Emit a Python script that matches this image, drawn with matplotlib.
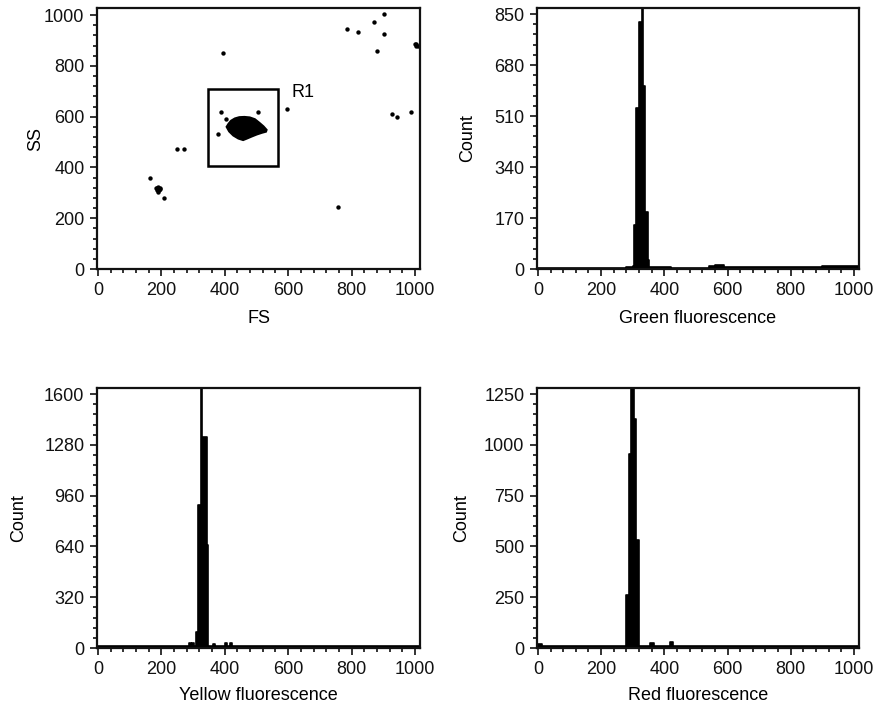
import numpy as np
import matplotlib.pyplot as plt
from matplotlib.ticker import MultipleLocator
from matplotlib.patches import Rectangle

plt.rcParams['font.family'] = ['Liberation Sans', 'DejaVu Sans']
plt.rcParams['font.size'] = 13

# FS / SS scatter: scattered single events
fs_events = [395, 787, 819, 872, 903, 903, 881, 1000, 1004, 1008, 1002,
             596, 926, 942, 989, 388, 504, 403, 380, 249, 273, 164, 209, 756,
             183, 190, 197, 186, 193, 190, 195, 185]
ss_events = [849, 946, 935, 974, 1004, 927, 858, 887, 885, 880, 880,
             629, 609, 600, 618, 619, 619, 589, 531, 474, 474, 359, 281, 243,
             320, 322, 320, 313, 312, 305, 316, 318]

# outline of the dense main population (too many events to show one by one)
cluster_fs = [406, 412, 420, 432, 446, 462, 479, 495, 509, 522, 532, 530, 518, 501, 485, 470, 458, 443, 427, 414]
cluster_ss = [560, 572, 584, 593, 598, 599, 597, 590, 576, 562, 548, 541, 537, 530, 522, 514, 508, 514, 526, 542]

# gate R1
gate_fs = (348, 568)
gate_ss = (405, 708)

# histograms: channel (left edge of bin) and count
green_ch = [0, 100, 200, 280, 300, 303, 310, 319, 329, 334, 340, 347, 352, 360, 420, 500, 540, 560, 590, 650, 800, 900, 1016]
green_ct = [3, 4, 5, 6, 10, 147, 538, 823, 1000, 609, 191, 30, 8, 6, 5, 5, 10, 14, 8, 6, 7, 9, 9]

yellow_ch = [0, 286, 292, 298, 304, 309, 316, 325, 329, 343, 348, 362, 368, 374, 400, 406, 412, 416, 422, 430, 1016]
yellow_ct = [12, 30, 12, 30, 12, 101, 899, 1700, 1329, 652, 12, 28, 12, 12, 32, 12, 12, 32, 12, 12, 12]

red_ch = [0, 14, 279, 287, 296, 304, 310, 319, 356, 366, 418, 428, 1016]
red_ct = [22, 10, 262, 953, 1400, 1126, 534, 10, 25, 10, 28, 10, 10]

fig = plt.figure(figsize=(8.76, 7.10), dpi=100)
ax_sc = fig.add_axes([0.1107, 0.6211, 0.3688, 0.3676])
ax_g = fig.add_axes([0.6130, 0.6211, 0.3676, 0.3676])
ax_y = fig.add_axes([0.1107, 0.0873, 0.3688, 0.3662])
ax_r = fig.add_axes([0.6130, 0.0873, 0.3676, 0.3662])


def style(ax, ymax, ymajor, yminor):
    ax.set_xlim(-3, 1016)
    ax.set_ylim(0, ymax)
    ax.xaxis.set_major_locator(MultipleLocator(200))
    ax.xaxis.set_minor_locator(MultipleLocator(40))
    ax.yaxis.set_major_locator(MultipleLocator(ymajor))
    ax.yaxis.set_minor_locator(MultipleLocator(yminor))
    ax.tick_params(which='both', direction='out', top=False, right=False,
                   width=1.2, colors='#111111')
    ax.tick_params(which='major', length=5, pad=4)
    ax.tick_params(which='minor', length=3)
    for s in ax.spines.values():
        s.set_linewidth(1.6)
        s.set_color('#111111')


def hist(ax, ch, ct):
    ax.fill_between(ch, ct, step='post', color='black', linewidth=0)
    ax.step(ch, ct, where='post', color='black', linewidth=1.2)


# scatter
style(ax_sc, 1028, 200, 40)
ax_sc.scatter(fs_events, ss_events, s=10, color='black', linewidths=0)
ax_sc.fill(cluster_fs, cluster_ss, color='black', linewidth=1.5)
ax_sc.add_patch(Rectangle((gate_fs[0], gate_ss[0]), gate_fs[1] - gate_fs[0],
                          gate_ss[1] - gate_ss[0], fill=False,
                          edgecolor='black', linewidth=1.8))
ax_sc.text(612, 697, 'R1', ha='left', va='center')
ax_sc.set_xlabel('FS', labelpad=8)
ax_sc.set_ylabel('SS')
ax_sc.yaxis.set_label_coords(-0.163, 0.5)

style(ax_g, 870, 170, 34)
hist(ax_g, green_ch, green_ct)
ax_g.set_xlabel('Green fluorescence', labelpad=8)
ax_g.set_ylabel('Count')
ax_g.yaxis.set_label_coords(-0.19, 0.5)

style(ax_y, 1638, 320, 64)
hist(ax_y, yellow_ch, yellow_ct)
ax_y.set_xlabel('Yellow fluorescence', labelpad=7)
ax_y.set_ylabel('Count')
ax_y.yaxis.set_label_coords(-0.215, 0.5)

style(ax_r, 1280, 250, 50)
hist(ax_r, red_ch, red_ct)
ax_r.set_xlabel('Red fluorescence', labelpad=7)
ax_r.set_ylabel('Count')
ax_r.yaxis.set_label_coords(-0.207, 0.5)

fig.savefig('out.png', dpi=100)
plt.close(fig)
